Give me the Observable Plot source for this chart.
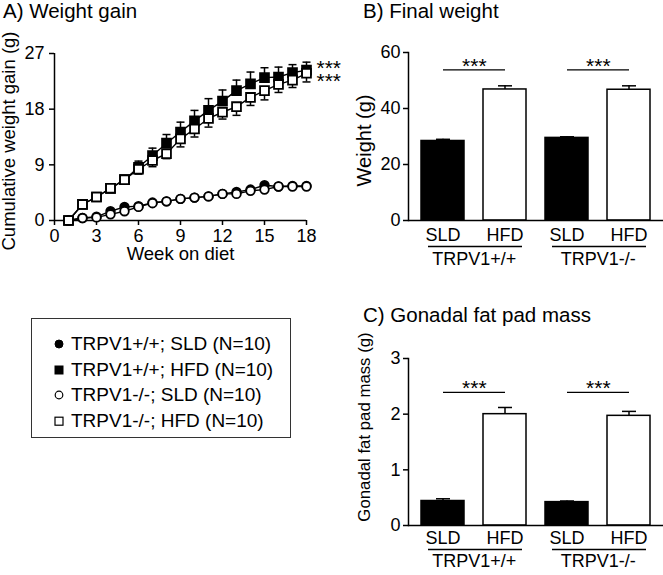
<!DOCTYPE html>
<html>
<head>
<meta charset="utf-8">
<script src="https://cdn.jsdelivr.net/npm/d3@7"></script>
<script src="https://cdn.jsdelivr.net/npm/@observablehq/plot@0.6"></script>
<style>
html, body { margin: 0; padding: 0; background: #fff; }
#root { position: relative; width: 663px; height: 575px; overflow: hidden; font-family: "Liberation Sans", Arial, Helvetica, sans-serif; color: #000; background: #fff; }
.panel { position: absolute; }
.title { position: absolute; font-size: 20.5px; line-height: 1; white-space: nowrap; }
#legend { position: absolute; left: 31px; top: 318px; width: 258px; height: 118px; border: 1.5px solid #333; }
.item { position: absolute; left: 0; width: 258px; height: 20px; font-size: 19px; line-height: 1; white-space: nowrap; }
.item svg { position: absolute; left: 21px; top: 4px; }
.item span { position: absolute; left: 39px; top: 0; }
</style>
</head>
<body>
<div id="root">
  <div class="title" id="tA" style="left:3px;top:1px"></div>
  <div class="title" id="tB" style="left:363px;top:1px"></div>
  <div class="title" id="tC" style="left:363px;top:305px"></div>
  <div class="panel" id="pA" style="left:0;top:0"></div>
  <div class="panel" id="pB" style="left:330px;top:0"></div>
  <div class="panel" id="pC" style="left:330px;top:290px"></div>
  <div id="legend"></div>
</div>
<script>
// ---------- Data ----------
const titles = ["A) Weight gain", "B) Final weight", "C) Gonadal fat pad mass"];

// Panel A: cumulative weight gain (g) by week
const weeks = [1, 2, 3, 4, 5, 6, 7, 8, 9, 10, 11, 12, 13, 14, 15, 16, 17, 18];
const xTicksA = [0, 3, 6, 9, 12, 15, 18];
const yTicksA = [0, 9, 18, 27];
const wtSLD = [0, 0.4, 0.6, 1.5, 2.2, 2.3, 2.9, 3.1, 3.5, 3.7, 3.9, 4.3, 4.6, 5.0, 5.7, 5.5, 5.6, 5.6];
const koSLD = [0, 0.4, 0.5, 1.0, 1.5, 2.2, 2.8, 3.1, 3.5, 3.7, 3.9, 4.3, 4.3, 4.8, 5.0, 5.5, 5.5, 5.5];
const wtHFD = [0, 2.6, 3.8, 5.2, 6.6, 8.6, 10.5, 12.5, 14.3, 16.1, 17.8, 19.3, 21.0, 22.1, 23.1, 23.2, 23.9, 24.3];
const koHFD = [0, 2.6, 3.8, 5.2, 6.6, 8.3, 9.7, 10.8, 13.2, 14.8, 16.5, 17.5, 18.4, 19.9, 21.0, 22.0, 22.7, 23.8];
const wtHFDsem = [0, 0.3, 0.3, 0.4, 0.5, 1.0, 1.2, 1.4, 1.6, 1.7, 1.9, 1.8, 1.7, 1.9, 1.6, 1.6, 1.3, 1.3];
const koHFDsem = [0, 0.3, 0.3, 0.4, 0.5, 0.8, 1.0, 0.8, 1.3, 1.3, 1.4, 1.1, 1.4, 1.3, 1.5, 1.3, 1.2, 1.4];
const starsA = ["***", "***"];
const xLabelA = "Week on diet";
const yLabelA = "Cumulative weight gain (g)";

// Panels B and C
const categories = ["TRPV1+/+ SLD", "TRPV1+/+ HFD", "TRPV1-/- SLD", "TRPV1-/- HFD"];
const diets = ["SLD", "HFD", "SLD", "HFD"];
const genotypes = ["TRPV1+/+", "TRPV1-/-"];
const finalWeight = [28.4, 46.8, 29.5, 46.7];
const finalWeightSem = [0.6, 1.3, 0.4, 1.4];
const yTicksB = [0, 20, 40, 60];
const sigB = 53.8;
const yLabelB = "Weight (g)";
const fatMass = [0.44, 2.00, 0.42, 1.97];
const fatMassSem = [0.04, 0.12, 0.02, 0.08];
const yTicksC = [0, 1, 2, 3];
const sigC = 2.39;
const yLabelC = "Gonadal fat pad mass (g)";
const sigStars = "***";

const legendLabels = ["TRPV1+/+; SLD (N=10)", "TRPV1+/+; HFD (N=10)", "TRPV1-/-; SLD (N=10)", "TRPV1-/-; HFD (N=10)"];

// ---------- Helpers ----------
const FONT = '"Liberation Sans", Arial, Helvetica, sans-serif';
const hline = { draw(ctx, size) { const w = Math.sqrt(size / Math.PI); ctx.moveTo(-w, 0); ctx.lineTo(w, 0); } };
const fmtInt = d => String(d);

document.getElementById("tA").textContent = titles[0];
document.getElementById("tB").textContent = titles[1];
document.getElementById("tC").textContent = titles[2];

// ---------- Panel A ----------
const seriesA = [
  {key: "wtSLD", values: wtSLD, fill: "black", symbol: "circle"},
  {key: "koSLD", values: koSLD, fill: "white", symbol: "circle"},
  {key: "wtHFD", values: wtHFD, sem: wtHFDsem, dir: 1, fill: "black", symbol: "square"},
  {key: "koHFD", values: koHFD, sem: koHFDsem, dir: -1, fill: "white", symbol: "square"}
];
const rowsA = [];
seriesA.forEach(s => s.values.forEach((v, i) => rowsA.push({
  key: s.key, week: weeks[i], v, sem: s.sem ? s.sem[i] : 0, dir: s.dir || 0
})));
const errA = rowsA.filter(d => d.sem > 0);
const lastW = weeks[weeks.length - 1];

const marksA = [
  Plot.ruleY([0], {stroke: "black", strokeWidth: 1.5}),
  Plot.ruleX([0], {stroke: "black", strokeWidth: 1.5}),
  Plot.axisX({ticks: xTicksA, tickSize: 5, tickPadding: 4, label: null, strokeWidth: 1.5, tickFormat: fmtInt}),
  Plot.axisY({ticks: yTicksA, tickSize: 5, tickPadding: 5, label: null, strokeWidth: 1.5, tickFormat: fmtInt}),
  Plot.line(rowsA, {x: "week", y: "v", z: "key", stroke: "black", strokeWidth: 1.4}),
  Plot.ruleX(errA, {x: "week", y1: "v", y2: d => d.v + d.dir * d.sem, stroke: "black", strokeWidth: 1.5}),
  Plot.dot(errA, {x: "week", y: d => d.v + d.dir * d.sem, symbol: hline, r: 4, stroke: "black", fill: "none", strokeWidth: 1.5})
];
seriesA.forEach(s => {
  marksA.push(Plot.dot(rowsA.filter(d => d.key === s.key), {
    x: "week", y: "v", symbol: s.symbol, r: s.symbol === "square" ? 5 : 4.3,
    fill: s.fill, stroke: "black", strokeWidth: 1.8
  }));
});
marksA.push(
  Plot.text([{t: starsA[0], v: wtHFD[wtHFD.length - 1]}], {x: () => lastW, y: "v", text: "t", textAnchor: "start", dx: 10, dy: -2, fontSize: 21}),
  Plot.text([{t: starsA[1], v: koHFD[koHFD.length - 1]}], {x: () => lastW, y: "v", text: "t", textAnchor: "start", dx: 10, dy: 8, fontSize: 21}),
  Plot.text([xLabelA], {text: d => d, frameAnchor: "bottom", lineAnchor: "middle", textAnchor: "middle", dy: 34, fontSize: 18.5}),
  Plot.text([yLabelA], {text: d => d, frameAnchor: "left", rotate: -90, textAnchor: "middle", lineAnchor: "middle", dx: -45, dy: 4, fontSize: 18.5})
);

const plotA = Plot.plot({
  width: 330, height: 275,
  marginLeft: 54, marginRight: 24, marginTop: 53, marginBottom: 55,
  x: {domain: [0, 18]},
  y: {domain: [0, 27]},
  style: {fontFamily: FONT, fontSize: "18px", color: "black", background: "transparent", overflow: "visible"},
  marks: marksA
});
document.getElementById("pA").append(plotA);

// ---------- Bar panels ----------
function barPanel({values, sems, yDomain, yTicks, sig, yLabel, yLabelSize, height, marginTop, marginBottom, tickPad, ulDy, gDy, ylDy}) {
  const width = 333, marginLeft = 78, marginRight = 0;
  const pIn = 0.31, pOut = 0.19;
  const step = (width - marginLeft - marginRight) / (categories.length - pIn + 2 * pOut);
  const rows = categories.map((c, i) => ({cat: c, diet: diets[i], v: values[i], sem: sems[i]}));
  const pairs = genotypes.map((g, i) => ({g, x1: categories[2 * i], x2: categories[2 * i + 1]}));
  return Plot.plot({
    width, height, marginLeft, marginRight, marginTop, marginBottom,
    x: {domain: categories, paddingInner: pIn, paddingOuter: pOut},
    y: {domain: yDomain},
    style: {fontFamily: FONT, fontSize: "18px", color: "black", background: "transparent", overflow: "visible"},
    marks: [
      Plot.barY(rows, {x: "cat", y: "v", fill: d => d.diet === "SLD" ? "black" : "white", stroke: "black", strokeWidth: 1.5}),
      Plot.ruleX(rows, {x: "cat", y1: "v", y2: d => d.v + d.sem, stroke: "black", strokeWidth: 1.5}),
      Plot.dot(rows, {x: "cat", y: d => d.v + d.sem, symbol: hline, r: 7, stroke: "black", fill: "none", strokeWidth: 1.5}),
      Plot.ruleY([0], {stroke: "black", strokeWidth: 1.5}),
      Plot.frame({anchor: "left", stroke: "black", strokeWidth: 1.5}),
      Plot.axisY({ticks: yTicks, tickSize: 5, tickPadding: 3, label: null, strokeWidth: 1.5, tickFormat: fmtInt}),
      Plot.axisX({tickSize: 0, tickPadding: tickPad, label: null, tickFormat: (d) => diets[categories.indexOf(d)]}),
      Plot.link(pairs, {x1: "x1", x2: "x2", y1: () => sig, y2: () => sig, stroke: "black", strokeWidth: 1.3}),
      Plot.text(pairs, {x: "x1", y: () => sig, text: () => sigStars, dx: step / 2, dy: -4, fontSize: 21}),
      Plot.ruleY(pairs, {x1: "x1", x2: "x2", y: () => 0, dy: ulDy, insetLeft: 7, insetRight: 4, stroke: "black", strokeWidth: 1.5}),
      Plot.text(pairs, {x: "x1", y: () => 0, text: "g", dx: step / 2, dy: gDy, fontSize: 18}),
      Plot.text([yLabel], {text: d => d, frameAnchor: "left", rotate: -90, textAnchor: "middle", lineAnchor: "middle", dx: -44, dy: ylDy, fontSize: yLabelSize})
    ]
  });
}

document.getElementById("pB").append(barPanel({
  values: finalWeight, sems: finalWeightSem, yDomain: [0, 60], yTicks: yTicksB, sig: sigB, yLabel: yLabelB, yLabelSize: 20,
  height: 280, marginTop: 52, marginBottom: 60, tickPad: 8, ulDy: 26, gDy: 39, ylDy: 4
}));
document.getElementById("pC").append(barPanel({
  values: fatMass, sems: fatMassSem, yDomain: [0, 3], yTicks: yTicksC, sig: sigC, yLabel: yLabelC, yLabelSize: 16.8,
  height: 285, marginTop: 68, marginBottom: 50, tickPad: 6, ulDy: 24, gDy: 36, ylDy: -15
}));

// ---------- Legend ----------
const legendSymbols = [
  '<circle cx="6" cy="6" r="4" fill="black" stroke="black" stroke-width="1"/>',
  '<rect x="2" y="2" width="8" height="8" fill="black" stroke="black" stroke-width="1"/>',
  '<circle cx="6" cy="6" r="3.8" fill="white" stroke="black" stroke-width="1.2"/>',
  '<rect x="2" y="2.2" width="8" height="8" fill="white" stroke="black" stroke-width="1.2"/>'
];
const itemTops = [15, 40.7, 66.4, 92.1];
const legend = document.getElementById("legend");
legendLabels.forEach((lab, i) => {
  const it = document.createElement("div");
  it.className = "item";
  it.style.top = itemTops[i] + "px";
  it.innerHTML = '<svg width="12" height="12" viewBox="0 0 12 12">' + legendSymbols[i] + '</svg>';
  const sp = document.createElement("span");
  sp.textContent = lab;
  it.append(sp);
  legend.append(it);
});
</script>
</body>
</html>
